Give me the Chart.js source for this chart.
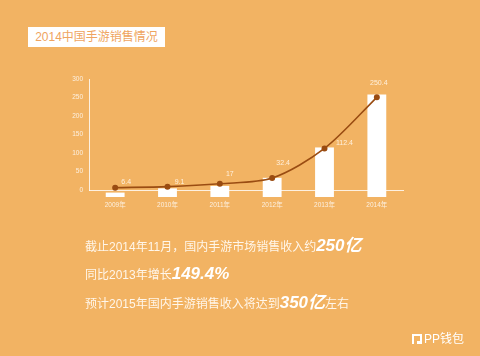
<!DOCTYPE html>
<html><head><meta charset="utf-8">
<script src="https://cdn.jsdelivr.net/npm/chart.js@4/dist/chart.umd.min.js"></script>
<style>
html,body{margin:0;padding:0;}
body{width:480px;height:356px;background:#F2B363;position:relative;overflow:hidden;font-family:"Liberation Sans","Noto Sans CJK SC",sans-serif;}
#c{position:absolute;left:0;top:0;}
.title{position:absolute;left:28px;top:27px;width:137px;height:20px;background:#fff;color:#EFA460;font-size:12px;line-height:20px;text-align:center;}
.ln{position:absolute;left:85px;color:#FFF6EA;font-size:12px;white-space:nowrap;line-height:20px;}
.ln b{font-size:17px;font-style:italic;font-weight:bold;color:#fff;}
.logo{position:absolute;left:411px;top:331px;color:#fff;font-size:12px;line-height:16px;white-space:nowrap;}
.logo svg{vertical-align:-2px;margin-right:1px;}
</style></head>
<body>
<canvas id="c" width="480" height="356"></canvas>
<div class="title">2014中国手游销售情况</div>
<div class="ln" style="top:236px">截止2014年11月，国内手游市场销售收入约<b>250亿</b></div>
<div class="ln" style="top:264px">同比2013年增长<b>149.4%</b></div>
<div class="ln" style="top:293px">预计2015年国内手游销售收入将达到<b>350亿</b>左右</div>
<div class="logo"><svg width="12" height="12" viewBox="0 0 12 12"><path d="M1 1h10v10H6V8h3V3H3v8H1z" fill="#fff"/></svg>PP钱包</div>
<script>
const categories = ["2009年","2010年","2011年","2012年","2013年","2014年"];
const salesValues = [6.4, 9.1, 17, 32.4, 112.4, 250.4];
const barTops = [-7, 4.5, 11, 33, 115, 258];
const barBase = -19;
const yTickValues = [0, 50, 100, 150, 200, 250, 300];

const labelOffsets = [[11,-6],[12,-5],[10,-10],[11,-15],[20,-5],[2,-14]];
const pale = 'rgba(255,255,255,0.8)';

const valueLabels = {
  id: 'valueLabels',
  afterDatasetsDraw(chart) {
    const meta = chart.getDatasetMeta(1);
    const ctx = chart.ctx;
    ctx.save();
    ctx.font = '7px "Liberation Sans", sans-serif';
    ctx.fillStyle = '#FFF0DD';
    ctx.textAlign = 'center';
    ctx.textBaseline = 'middle';
    meta.data.forEach((pt, i) => {
      const o = labelOffsets[i];
      ctx.fillText(String(salesValues[i]), pt.x + o[0], pt.y + o[1]);
    });
    ctx.restore();
  }
};

new Chart(document.getElementById('c'), {
  data: {
    labels: categories,
    datasets: [
      {
        type: 'bar',
        data: barTops.map(t => [barBase, t]),
        backgroundColor: '#FFFFFF',
        borderWidth: 0,
        barPercentage: 0.36,
        categoryPercentage: 1,
        clip: false,
        order: 1
      },
      {
        type: 'line',
        data: salesValues,
        borderColor: '#9A4C12',
        backgroundColor: '#9A4C12',
        borderWidth: 1.6,
        pointRadius: 2.2,
        pointStyle: 'circle',
        tension: 0.3,
        clip: false,
        order: 0
      }
    ]
  },
  options: {
    responsive: false,
    devicePixelRatio: 1,
    animation: false,
    layout: { padding: { top: 79, right: 77, bottom: 0, left: 0 } },
    plugins: { legend: { display: false }, tooltip: { enabled: false } },
    scales: {
      x: {
        offset: true,
        grid: { display: false, drawTicks: false },
        border: { display: true, color: pale, width: 1 },
        ticks: { color: pale, font: { size: 6.5, family: '"Liberation Sans", "Noto Sans CJK SC", sans-serif' }, padding: 11, maxRotation: 0 },
        afterFit(s) { s.height = 166; }
      },
      y: {
        min: 0, max: 300,
        grid: { display: false, drawTicks: false },
        border: { display: true, color: pale, width: 1 },
        ticks: { color: pale, font: { size: 6.5, family: '"Liberation Sans", sans-serif' }, padding: 6 },
        afterBuildTicks(s) { s.ticks = yTickValues.map(v => ({ value: v })); },
        afterFit(s) { s.width = 89; }
      }
    }
  },
  plugins: [valueLabels]
});
</script>
</body></html>
